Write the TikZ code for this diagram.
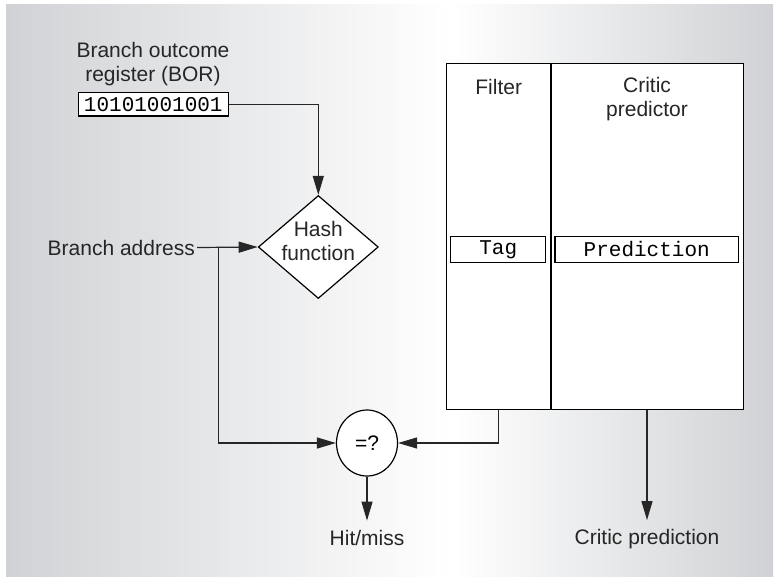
\documentclass[tikz,border=0pt]{standalone}
\usepackage{fontspec}
\setmainfont{Liberation Sans}
\setmonofont{Liberation Mono}
\usetikzlibrary{arrows.meta,shapes.geometric,calc,positioning}
\definecolor{panelgray}{RGB}{208,210,213}

\begin{document}
\begin{tikzpicture}[x=1pt,y=-1pt,
  txt/.style={font=\fontsize{21}{24}\selectfont, inner sep=2pt, text=black!85},
  reg/.style={draw, fill=white, line width=1.2pt, inner sep=0pt, font=\ttfamily\fontsize{21}{24}\selectfont},
  box/.style={draw, fill=white, line width=1.2pt, inner sep=0pt},
  wire/.style={line width=1.2pt, black!85},
  arr/.style={wire, -{Triangle[length=19pt,width=11pt]}}]
\useasboundingbox (0,0) rectangle (775,576);
\shade[left color=panelgray, right color=white] (6,4) rectangle (450,576);
\shade[left color=white, right color=panelgray] (450,4) rectangle (773,576);

\node[txt, align=center] (borlbl) at (153,64) {Branch outcome\\register (BOR)};
\node[reg, minimum width=150pt, minimum height=23.5pt] (bor) at (153.3,104.3) {10101001001};

\node[box, diamond, minimum width=120pt, minimum height=103pt] (hash) at (318.3,247) {};
\node[txt, align=center] (hashlbl) at (318.3,241) {Hash\\function};

\node[txt, anchor=east] (addr) at (197,247.5) {Branch address};
\coordinate (fork) at ($(addr.east)+(21.5,0)$);

\node[box, ellipse, minimum width=61pt, minimum height=66pt, font=\fontsize{21}{24}\selectfont] (cmp) at (367,443) {=?};

\node[box, minimum width=104pt, minimum height=346pt] (filt) at (498.7,236.5) {};
\node[box, minimum width=192.6pt, minimum height=346pt] (crit) at (647,236.5) {};
\draw[line width=2pt] (filt.north east) -- (filt.south east);

\node[txt] (filtlbl) at (498.7,86.5) {Filter};
\node[txt, align=center] (critlbl) at (647,99) {Critic\\predictor};
\node[reg, minimum width=95pt, minimum height=25.5pt] (tag) at (498.2,249.5) {Tag};
\node[reg, minimum width=183.3pt, minimum height=25.5pt] (pred) at (646.7,249.5) {Prediction};

\node[txt, below=51pt of cmp.south] (hit) {Hit/miss};
\node[txt, below=117pt of crit.south] (cpred) {Critic prediction};

\draw[arr] (bor.east) -| (hash.north);
\draw[arr] (addr.east) -- (hash.west);
\draw[arr] (fork) |- (cmp.west);
\draw[arr] (filt.south) |- (cmp.east);
\draw[arr, shorten >=7pt] (cmp.south) -- (hit.north);
\draw[arr, shorten >=7pt] (crit.south) -- (cpred.north);

\end{tikzpicture}
\end{document}
